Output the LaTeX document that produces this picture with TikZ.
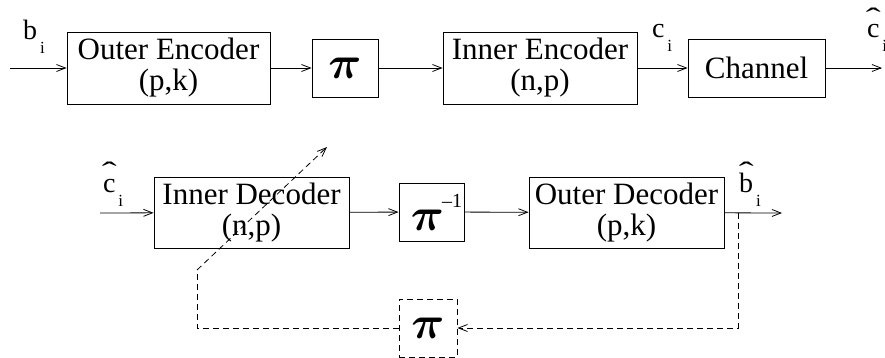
\documentclass[tikz,border=0pt]{standalone}
\usepackage{fontspec}
\setmainfont{Liberation Serif}
\usetikzlibrary{arrows.meta}

% label helpers: lowered index and raised hat
\newcommand{\subi}{\raisebox{-14pt}{\fontsize{17}{17}\selectfont\,i}}
\newcommand{\hatlbl}[1]{\leavevmode\setbox0\hbox{#1}%
  \rlap{\hbox to\wd0{\hss\raisebox{10pt}{\scalebox{1.6}[1]{\symbol{"02C6}}}\hss}}\box0}
\newcommand{\pisym}{\scalebox{1.85}{$\pi$}}

\begin{document}
\begin{tikzpicture}[x=1pt,y=-1pt,
  blk/.style={draw, line width=0.9pt, inner sep=0pt, align=center,
    font=\fontsize{31}{31}\selectfont},
  pibox/.style={draw, line width=0.9pt, inner sep=0pt,
    minimum width=66pt, minimum height=58pt, font=\fontsize{24.88}{25}\selectfont\boldmath},
  lbl/.style={inner sep=0pt, anchor=base west, font=\fontsize{28}{28}\selectfont},
  flow/.style={-{Straight Barb[length=9pt,width=7pt]}, line width=0.8pt},
  fb/.style={line width=0.8pt, dash pattern=on 6pt off 4pt}]
  \useasboundingbox (0,0) rectangle (885,358);

  % encoder chain
  \node[blk, minimum width=203pt, minimum height=72pt] (oenc) at (168.5,68) {Outer Encoder\\(p,k)};
  \node[pibox] (pi) at (345,68) {\pisym};
  \node[blk, minimum width=194pt, minimum height=72pt] (ienc) at (540,68) {Inner Encoder\\(n,p)};
  \node[blk, minimum width=137pt, minimum height=58pt] (chan) at (756.5,68) {Channel};
  \coordinate (bin) at (10,68);
  \coordinate (chout) at (882,68);

  \draw[flow] (bin) -- (oenc);
  \draw[flow] (oenc) -- (pi);
  \draw[flow] (pi) -- (ienc);
  \draw[flow] (ienc) -- (chan);
  \draw[flow] (chan) -- (chout);

  \node[lbl] (lb) at (23,40) {b\subi};
  \node[lbl] (lc) at (652,38) {c\subi};
  \node[lbl] (lch) at (867,38) {\hatlbl{c}\subi};

  % decoder chain
  \node[blk, minimum width=195pt, minimum height=71pt] (idec) at (251.5,212.5) {Inner Decoder\\(n,p)};
  \node[pibox, minimum width=65pt] (piinv) at (431.5,212) {\hspace*{-8pt}\pisym\rlap{\hspace{-2pt}\raisebox{23pt}{\fontsize{20}{20}\selectfont –1}}};
  \node[blk, minimum width=195pt, minimum height=71pt] (odec) at (626.5,212.5) {Outer Decoder\\(p,k)};
  \coordinate (cin) at (100,213);
  \coordinate (bout) at (782,213);

  \draw[flow] (cin) -- (idec);
  \draw[flow] (idec) -- (piinv);
  \draw[flow] (piinv) -- (odec);
  \draw[flow] (odec) -- (bout);

  \node[lbl] (lch2) at (103,192) {\hatlbl{c}\subi};
  \node[lbl] (lbh) at (739,192) {\hatlbl{b}\subi};

  % feedback loop
  \node[pibox, fb, minimum width=58pt] (pifb) at (428,328) {\pisym};
  \coordinate (tap) at (738,213);
  \coordinate (fbr) at (738,328);
  \coordinate (fbl) at (197,328);
  \coordinate (fbk) at (197,270);
  \coordinate (fbend) at (327,147);
  \draw[fb, -{Straight Barb[length=9pt,width=7pt]}] (tap) -- (fbr) -- (pifb.east);
  \draw[fb] (pifb.west) -- (fbl) -- (fbk);
  \draw[fb, -{Straight Barb[length=9pt,width=7pt]}] (fbk) -- (fbend);
\end{tikzpicture}
\end{document}
